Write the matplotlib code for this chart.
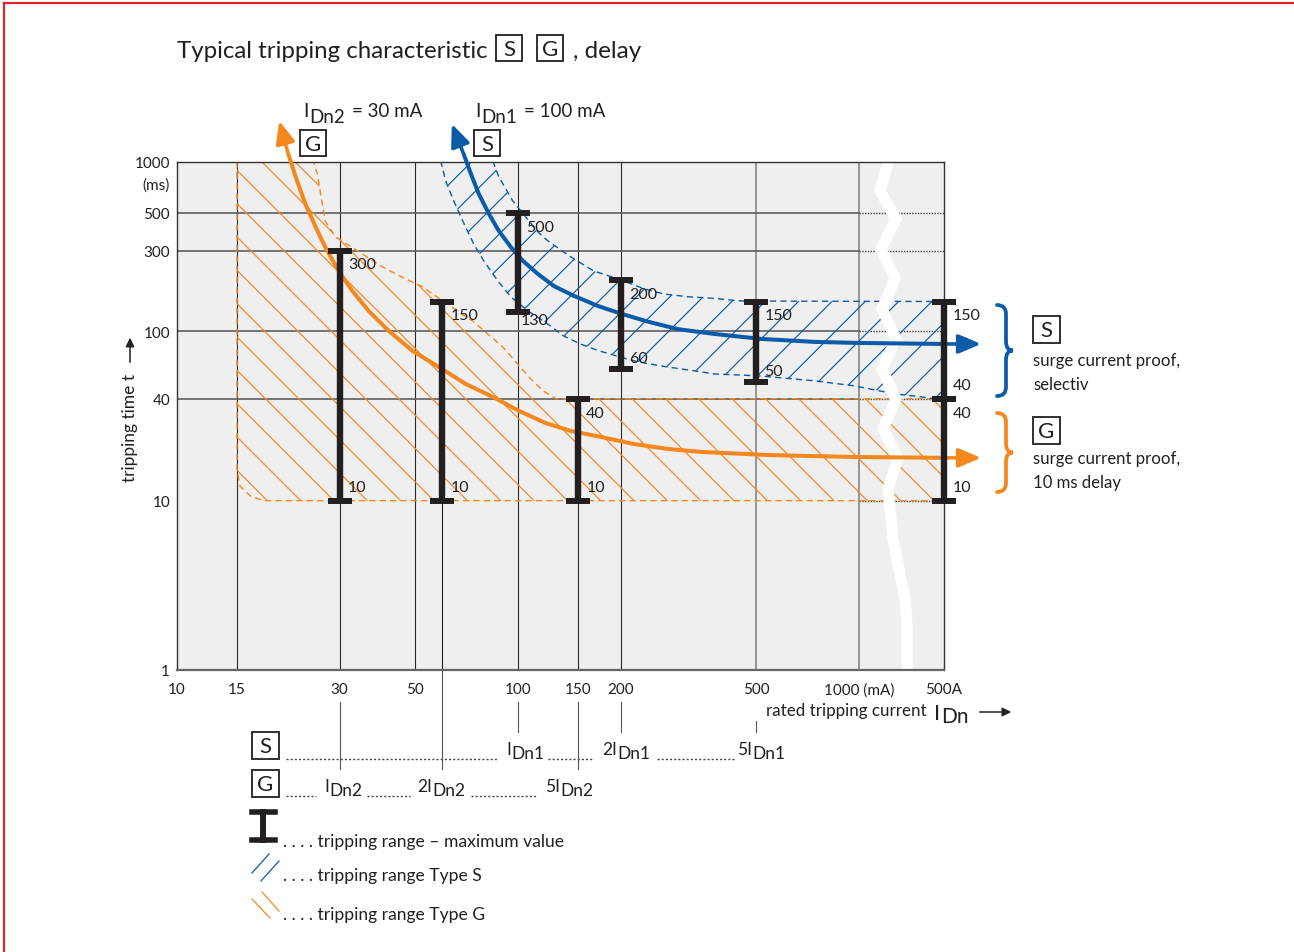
import numpy as np
import matplotlib
matplotlib.use("Agg")
import matplotlib.pyplot as plt
from matplotlib.transforms import Affine2D, blended_transform_factory
from matplotlib.lines import Line2D
from matplotlib.patches import Rectangle, FancyArrowPatch, PathPatch
from matplotlib.path import Path
from matplotlib.ticker import NullLocator

plt.rcParams["font.family"] = ["Lato", "DejaVu Sans"]
plt.rcParams["hatch.linewidth"] = 0.85

# ---------------- data ----------------
X_TICKS = [10, 15, 30, 50, 100, 150, 200, 500, 1000, 500000]
X_TICK_LABELS = ["10", "15", "30", "50", "100", "150", "200", "500", "1000 (mA)", "500A"]
Y_TICKS = [1, 10, 40, 100, 300, 500, 1000]
Y_TICK_LABELS = ["1", "10", "40", "100", "300", "500", "1000"]

V_GRID_DARK = [15, 30, 50, 100, 150, 200]
V_GRID_LIGHT = [500, 1000]
H_GRID = [40, 100, 300, 500]
H_GRID_BREAK = [10, 40, 100, 300, 500]

# tripping range - maximum value bars (mA, ms)
G_BAR_I = [30, 60, 150, 500000]
G_BAR_MIN = [10, 10, 10, 10]
G_BAR_MAX = [300, 150, 40, 40]
S_BAR_I = [100, 200, 500, 500000]
S_BAR_MIN = [130, 60, 50, 40]
S_BAR_MAX = [500, 200, 150, 150]

# characteristic curves (first point = arrow tip above the chart)
G_CURVE_I = [19.95, 21.2, 22.5, 23.8, 25.5, 27.2, 29.8, 32.7, 36.5, 41.8, 49.1, 58.6, 70.3,
             84.4, 100.7, 120.8, 143, 175, 219, 276, 345, 543, 680, 1000, 500000]
G_CURVE_T = [1750, 1117, 773, 566, 414, 315, 227, 173, 132, 100.6, 76.6, 61.6, 48.9,
             41, 33.9, 28.7, 25.8, 23.8, 21.6, 20.2, 19.4, 18.6, 18.4, 18.1, 17.9]
S_CURVE_I = [64, 69.3, 72.8, 76.8, 82.2, 87.9, 95.3, 103.4, 114.5, 127.6, 146, 172, 201,
             241, 295, 377, 518, 743, 1000, 500000]
S_CURVE_T = [1679, 1117, 851, 648, 494, 392, 315, 261, 218, 185, 162, 141, 127,
             114, 103, 96.5, 90.2, 86.6, 85.4, 84.2]

# tripping range envelopes
G_RANGE_I = [15, 15, 15.3, 16.4, 17.9, 500000, 500000, 129.4, 118.5, 107.7, 90.3, 73.7,
             60.2, 52.6, 46.8, 40.1, 29.2, 27.2, 25.8, 25.1]
G_RANGE_T = [1000, 15.4, 12.2, 10.66, 10, 10, 40, 40, 44.5, 53.8, 80.9, 115,
             151, 183, 204, 240, 361, 449, 851, 1015]
S_RANGE_I = [84.4, 87.9, 92.2, 96.6, 114.5, 122.5, 143, 167, 197, 235, 269, 316, 370, 453,
             500000, 500000, 99300, 13900, 973, 743, 508, 377, 338, 269, 225, 197, 172, 153,
             136, 122, 107, 95.3, 87.4, 79.4, 74.2, 68.9, 64.8, 61.4, 59.4]
S_RANGE_T = [1015, 817, 693, 589, 386, 342, 275, 227, 204, 178, 166, 160, 157, 151,
             150, 39, 41, 42.7, 47.6, 51, 54.6, 56, 58, 62, 66, 71, 77, 84,
             94, 111, 132, 160, 198, 261, 328, 449, 591, 773, 1015]

LEADER_I = [30, 60, 150, 100, 200, 500]

# ---------------- styling ----------------
W, H = 1294, 953
INK = "#231f20"
ORANGE = "#f5871f"
BLUE = "#0b5ba8"

fig = plt.figure(figsize=(W / 100, H / 100), dpi=100)
fig.patch.set_facecolor("white")
PX = Affine2D().scale(1.0 / W, -1.0 / H).translate(0, 1) + fig.transFigure

ax = fig.add_axes([177 / W, 1 - 671 / H, 767 / W, 508 / H])

K = 0.25 / (np.log10(500000) - 3)   # compressed (broken) part of the current axis


def fwd(x):
    l = np.log10(np.clip(np.asarray(x, dtype=float), 1e-9, None))
    return np.where(l <= 3, l, 3 + (l - 3) * K)


def inv(p):
    p = np.asarray(p, dtype=float)
    return np.where(p <= 3, 10.0 ** np.minimum(p, 3),
                    10.0 ** (3 + (np.maximum(p, 3) - 3) / K))


ax.set_xscale("function", functions=(fwd, inv))
ax.set_yscale("log")
ax.set_facecolor("#efefef")

# grid
for v in V_GRID_DARK:
    ax.axvline(v, color="#2b2b2b", lw=0.8, zorder=1)
for v in V_GRID_LIGHT:
    ax.axvline(v, color="#7d7d7d", lw=1.1, zorder=1)
for h in H_GRID:
    ax.plot([10, 1000], [h, h], color="#5e5e5e", lw=1.2, zorder=1)
for h in H_GRID_BREAK:
    ax.plot([1000, 500000], [h, h], color="#444444", lw=1.0, ls=(0, (1, 1)), zorder=1)
ax.plot([60, 60], [1, 10], color=INK, lw=0.8, zorder=1)

# tripping ranges (hatched)
ax.fill(G_RANGE_I, G_RANGE_T, facecolor="none", edgecolor=ORANGE, hatch="\\", linewidth=0, zorder=2)
ax.plot(G_RANGE_I, G_RANGE_T, color=ORANGE, lw=1.0, ls=(0, (4.5, 3)), zorder=2.1)
ax.fill(S_RANGE_I, S_RANGE_T, facecolor="none", edgecolor=BLUE, hatch="/", linewidth=0, zorder=2)
ax.plot(S_RANGE_I, S_RANGE_T, color=BLUE, lw=1.0, ls=(0, (4.5, 3)), zorder=2.1)

# axis break (white zig-zag)
BREAK_X = [889, 880, 896, 881, 895, 882, 896, 882, 896, 883, 898, 888, 893, 905, 907, 907]
BREAK_Y = [160, 192, 220, 250, 280, 310, 340, 370, 400, 430, 460, 490, 540, 600, 625, 675]
ax.plot(BREAK_X, BREAK_Y, transform=PX, color="white", lw=8, zorder=2.4,
        solid_joinstyle="miter", solid_capstyle="butt")

# characteristic curves with arrows
HEAD = "-|>,head_length=0.75,head_width=0.32"
for ci, ct, col in ((G_CURVE_I, G_CURVE_T, ORANGE), (S_CURVE_I, S_CURVE_T, BLUE)):
    ax.plot(ci[1:], ct[1:], color=col, lw=2.9, zorder=4, clip_on=False,
            solid_capstyle="butt", solid_joinstyle="round")
    ax.annotate("", xy=(ci[0], ct[0]), xytext=(ci[1], ct[1]),
                arrowprops=dict(arrowstyle=HEAD, color=col, lw=2.6, shrinkA=0, shrinkB=0,
                                mutation_scale=18),
                annotation_clip=False, zorder=4)
    ax.annotate("", xy=(ci[-1], ct[-1]), xycoords=ax.transData + Affine2D().translate(37, 0),
                xytext=(ci[-1], ct[-1]), textcoords="data",
                arrowprops=dict(arrowstyle=HEAD, color=col, lw=2.6, shrinkA=0, shrinkB=0,
                                mutation_scale=18),
                annotation_clip=False, zorder=4)

# tripping range bars
for bi, lo, hi in ((G_BAR_I, G_BAR_MIN, G_BAR_MAX), (S_BAR_I, S_BAR_MIN, S_BAR_MAX)):
    ax.vlines(bi, lo, hi, colors=INK, lw=4.6, zorder=5, clip_on=False)
    ax.plot(bi, lo, ls="none", marker="_", ms=17, mew=4.3, color=INK, zorder=5, clip_on=False)
    ax.plot(bi, hi, ls="none", marker="_", ms=17, mew=4.3, color=INK, zorder=5, clip_on=False)

LBL_FS = 11.5
G_LO_OFF = [(6, 10), (6, 10), (6, 10), (6, 10)]
S_LO_OFF = [(2, -6), (6, 8), (6, 8), (6, 10)]
for bi, lo, hi, loff in ((G_BAR_I, G_BAR_MIN, G_BAR_MAX, G_LO_OFF),
                         (S_BAR_I, S_BAR_MIN, S_BAR_MAX, S_LO_OFF)):
    for x, a, b, o in zip(bi, lo, hi, loff):
        ax.annotate(f"{b}", xy=(x, b), xytext=(6, -10), textcoords="offset points",
                    fontsize=LBL_FS, color=INK, va="center", ha="left",
                    annotation_clip=False, zorder=6)
        ax.annotate(f"{a}", xy=(x, a), xytext=o, textcoords="offset points",
                    fontsize=LBL_FS, color=INK, va="center", ha="left",
                    annotation_clip=False, zorder=6)

# axes formatting
ax.set_xlim(10, 500000)
ax.set_ylim(1, 1000)
ax.set_xticks(X_TICKS, X_TICK_LABELS)
ax.set_yticks(Y_TICKS, Y_TICK_LABELS)
ax.xaxis.set_minor_locator(NullLocator())
ax.yaxis.set_minor_locator(NullLocator())
ax.tick_params(length=0, labelsize=11, labelcolor=INK)
ax.tick_params(axis="x", pad=9)
ax.tick_params(axis="y", pad=5)
for s in ("left", "top", "right"):
    ax.spines[s].set_color("#333333")
    ax.spines[s].set_linewidth(1.0)
ax.spines["bottom"].set_color("#666666")
ax.spines["bottom"].set_linewidth(1.6)

# ---------------- annotations outside the plot ----------------
BT = blended_transform_factory(ax.transData, PX)
LEADER_Y = [(703, 770), (671, 770), (703, 770), (703, 733), (703, 733), (722, 733)]
for x, (y0, y1) in zip(LEADER_I, LEADER_Y):
    fig.add_artist(Line2D([x, x], [y0, y1], transform=BT, color="#555555", lw=0.8))


def boxed(cx, cy, letter, size=26, fs=16):
    fig.add_artist(Rectangle((cx - size / 2, cy - size / 2), size, size, transform=PX,
                             facecolor="white", edgecolor=INK, lw=1.3, zorder=2))
    fig.text(cx, cy + 1, letter, transform=PX, ha="center", va="center",
             fontsize=fs, color=INK, zorder=3)


def idn(x, y, prefix, sub, suffix="", fs=12, sub_fs=None, dy=5, sgap=4):
    t = fig.text(x, y, prefix + "I", transform=PX, fontsize=fs, color=INK,
                 va="baseline", ha="left")
    a = ax.annotate(sub, xy=(1, 0), xycoords=t, xytext=(0.4, -dy * 0.72),
                    textcoords="offset points", fontsize=sub_fs or fs, color=INK,
                    va="bottom", ha="left", annotation_clip=False)
    if suffix:
        ax.annotate(suffix, xy=(1, 0), xycoords=a, xytext=(sgap, dy * 0.72),
                    textcoords="offset points", fontsize=fs, color=INK,
                    va="bottom", ha="left", annotation_clip=False)


# title
fig.text(177, 58, "Typical tripping characteristic", transform=PX, fontsize=17.3,
         color=INK, va="baseline")
boxed(509, 49, "S", size=26, fs=16)
boxed(550, 49, "G", size=26, fs=16)
fig.text(573, 58, ", delay", transform=PX, fontsize=17.5, color=INK, va="baseline")

# rated currents on top
idn(303, 117, "", "Dn2", "= 30 mA", fs=13.5, dy=6, sgap=5)
idn(475, 117, "", "Dn1", "= 100 mA", fs=13.5, dy=6, sgap=5)
boxed(313, 144, "G")
boxed(487, 144, "S")

# y label
fig.text(130, 428, "tripping time t", transform=PX, rotation=90, ha="center", va="center",
         fontsize=12.5, color=INK)
fig.add_artist(FancyArrowPatch((130, 366), (130, 336), transform=PX, arrowstyle="-|>",
                               mutation_scale=13, lw=1.1, color=INK))
fig.text(170, 186, "(ms)", transform=PX, ha="right", va="center", fontsize=11, color=INK)

# x label
fig.text(766, 716, "rated tripping current", transform=PX, fontsize=12.2, color=INK,
         va="baseline")
idn(934, 720, "", "Dn", "", fs=16, sub_fs=15, dy=3)
fig.add_artist(FancyArrowPatch((977, 713), (1014, 713), transform=PX, arrowstyle="-|>",
                               mutation_scale=13, lw=1.1, color=INK))

# S / G multiples rows
boxed(265, 746, "S", size=27)
boxed(265, 784, "G", size=27)
for x0, x1 in ((286, 498), (548, 593), (657, 735)):
    fig.add_artist(Line2D([x0, x1], [760, 760], transform=PX, color="#444444", lw=1,
                          ls=(0, (1.5, 1.5))))
for x0, x1 in ((286, 316), (367, 410), (471, 537)):
    fig.add_artist(Line2D([x0, x1], [797, 797], transform=PX, color="#444444", lw=1,
                          ls=(0, (1.5, 1.5))))
idn(506, 755, "", "Dn1", fs=12.5, dy=4)
idn(602, 755, "2", "Dn1", fs=12.5, dy=4)
idn(737, 755, "5", "Dn1", fs=12.5, dy=4)
idn(324, 792, "", "Dn2", fs=12.5, dy=4)
idn(417, 792, "2", "Dn2", fs=12.5, dy=4)
idn(545, 792, "5", "Dn2", fs=12.5, dy=4)


# right side braces and notes
def brace(yt, yb, col, xl=997, xm=1006, xr=1013, r=9):
    ym = (yt + yb) / 2
    verts = [(xl, yt), (xm, yt), (xm, yt + r), (xm, ym - r), (xm, ym), (xr, ym),
             (xm, ym), (xm, ym + r), (xm, yb - r), (xm, yb), (xl, yb)]
    codes = [Path.MOVETO, Path.CURVE3, Path.CURVE3, Path.LINETO, Path.CURVE3, Path.CURVE3,
             Path.CURVE3, Path.CURVE3, Path.LINETO, Path.CURVE3, Path.CURVE3]
    fig.add_artist(PathPatch(Path(verts, codes), transform=PX, fill=False, edgecolor=col,
                             lw=2.7, capstyle="round"))


brace(306, 397, BLUE)
brace(414, 493, ORANGE)
boxed(1046, 330, "S", size=27)
boxed(1046, 431, "G", size=27)
for txt, y in (("surge current proof,", 361), ("selectiv", 385),
               ("surge current proof,", 459), ("10 ms delay", 483)):
    fig.text(1033, y, txt, transform=PX, fontsize=12.1, color=INK, va="center")

# legend
fig.add_artist(Line2D([263, 263], [813, 841], transform=PX, color=INK, lw=4.3))
for yy in (813, 841):
    fig.add_artist(Line2D([252, 275], [yy, yy], transform=PX, color=INK, lw=4.0))
fig.add_artist(Line2D([252, 269], [874, 855], transform=PX, color=BLUE, lw=0.9))
fig.add_artist(Line2D([261, 279], [882, 862], transform=PX, color=BLUE, lw=0.9))
fig.add_artist(Line2D([262, 279], [893, 912], transform=PX, color=ORANGE, lw=0.9))
fig.add_artist(Line2D([252, 270], [900, 919], transform=PX, color=ORANGE, lw=0.9))
for txt, y in ((". . . . tripping range \u2013 maximum value", 842),
               (". . . . tripping range Type S", 876),
               (". . . . tripping range Type G", 915)):
    fig.text(283, y, txt, transform=PX, fontsize=12.6, color=INK, va="center")

# red frame
fig.add_artist(Line2D([4, 1294], [4, 4], transform=PX, color="#e0262b", lw=1.6))
fig.add_artist(Line2D([4, 4], [4, 953], transform=PX, color="#e0262b", lw=1.6))

fig.savefig("out.png", dpi=100, facecolor="white")
